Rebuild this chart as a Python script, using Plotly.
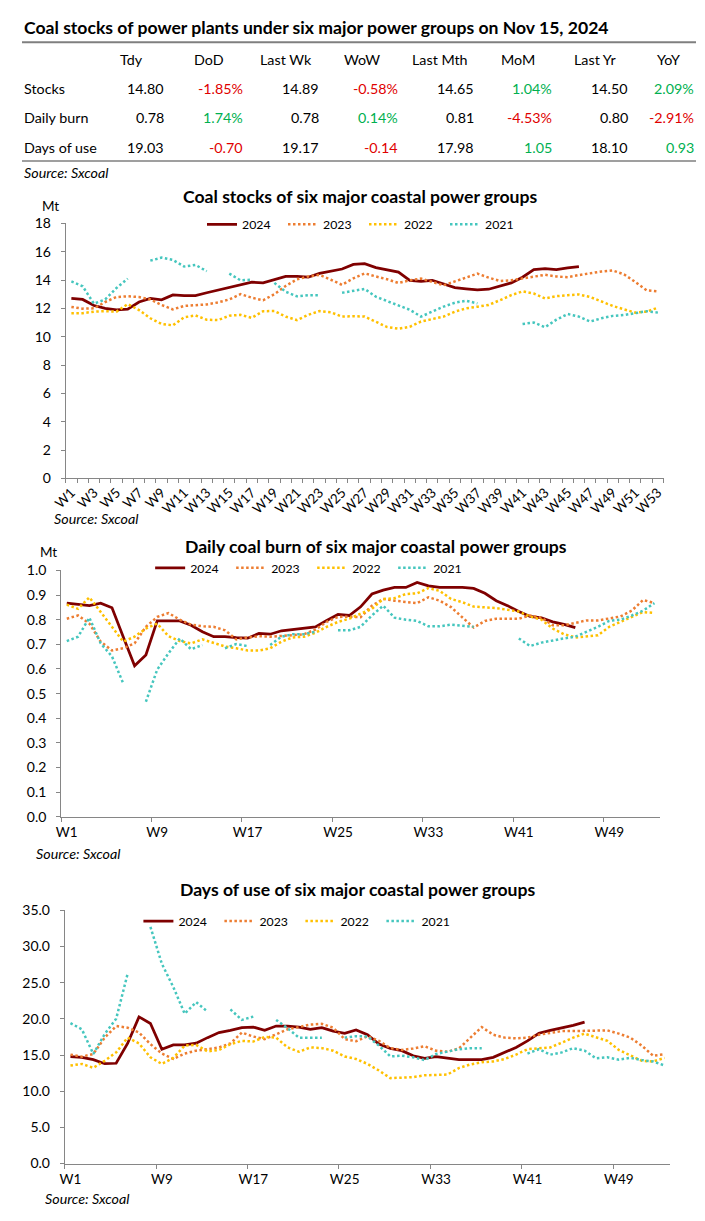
import plotly.graph_objects as go

# ---------------- data ----------------
weeks = list(range(1, 54))
week_labels = ["W%d" % w for w in weeks]
years = ["2024", "2023", "2022", "2021"]

stocks_2024 = [12.7, 12.63, 12.2, 12.0, 11.9, 11.95, 12.45, 12.7, 12.6, 12.95,
               12.9, 12.9, 13.1, 13.3, 13.5, 13.7, 13.85, 13.8, 14.03, 14.25,
               14.25, 14.2, 14.47, 14.62, 14.78, 15.1, 15.15, 14.88, 14.72, 14.56,
               13.98, 13.9, 13.98, 13.75, 13.47, 13.38, 13.3, 13.35, 13.55, 13.8,
               14.2, 14.74, 14.8, 14.74, 14.86, 14.95]
stocks_2023 = [12.1, 11.98, 12.0, 12.45, 12.8, 12.85, 12.8, 12.63, 12.24, 11.93,
               12.17, 12.2, 12.28, 12.42, 12.63, 13.0, 12.75, 12.57, 13.0, 13.58,
               14.05, 14.25, 14.36, 14.02, 13.66, 14.12, 14.47, 14.25, 14.05, 13.79,
               13.98, 14.1, 13.86, 13.63, 13.9, 14.2, 14.45, 14.17, 13.93, 13.98,
               14.1, 14.25, 14.37, 14.25, 14.2, 14.35, 14.5, 14.6, 14.67, 14.4,
               13.86, 13.28, 13.2]
stocks_2022 = [11.66, 11.66, 11.77, 11.8, 11.77, 12.3, 11.88, 11.3, 10.9, 10.8,
               11.37, 11.5, 11.2, 11.17, 11.48, 11.54, 11.33, 11.8, 11.81, 11.42,
               11.17, 11.54, 11.81, 11.72, 11.42, 11.45, 11.42, 11.05, 10.68, 10.56,
               10.7, 11.07, 11.23, 11.42, 11.77, 12.0, 12.12, 12.24, 12.58, 12.93,
               13.2, 13.05, 12.7, 12.86, 12.93, 12.98, 12.8, 12.5, 12.17, 11.93,
               11.7, 11.77, 12.05]
stocks_2021 = [13.9, 13.56, 12.33, 12.63, 13.44, 14.1, None, 15.37, 15.58, 15.42,
               14.95, 15.07, 14.62, None, 14.45, 13.98, 14.02, None, 13.8, 13.17,
               12.85, 12.93, 12.93, None, 13.1, 13.25, 13.37, 12.82, 12.5, 12.2,
               11.9, 11.42, 11.77, 12.12, 12.4, 12.54, 12.35, None, None, None,
               10.9, 11.0, 10.67, 11.2, 11.6, 11.42, 11.07, 11.3, 11.47, 11.53,
               11.66, 11.8, 11.7]

burn_2024 = [0.867, 0.861, 0.857, 0.867, 0.848, 0.73, 0.613, 0.657, 0.795, 0.795,
             0.795, 0.777, 0.751, 0.731, 0.731, 0.727, 0.725, 0.744, 0.741, 0.755,
             0.76, 0.768, 0.771, 0.797, 0.821, 0.817, 0.852, 0.904, 0.92, 0.931,
             0.931, 0.951, 0.937, 0.931, 0.931, 0.931, 0.927, 0.907, 0.877, 0.857,
             0.833, 0.813, 0.807, 0.791, 0.781, 0.768]
burn_2023 = [0.804, 0.817, 0.784, 0.711, 0.675, 0.684, 0.704, 0.771, 0.811, 0.827,
             0.8, 0.78, 0.773, 0.771, 0.757, 0.72, 0.728, 0.733, 0.731, 0.733,
             0.737, 0.741, 0.76, 0.791, 0.811, 0.812, 0.81, 0.857, 0.884, 0.877,
             0.873, 0.867, 0.891, 0.877, 0.851, 0.808, 0.768, 0.795, 0.804, 0.804,
             0.804, 0.817, 0.808, 0.777, 0.777, 0.787, 0.797, 0.797, 0.804, 0.813,
             0.837, 0.88, 0.867]
burn_2022 = [0.861, 0.844, 0.891, 0.831, 0.771, 0.711, 0.731, 0.764, 0.784, 0.733,
             0.713, 0.704, 0.72, 0.707, 0.691, 0.684, 0.675, 0.675, 0.684, 0.711,
             0.728, 0.731, 0.747, 0.771, 0.791, 0.804, 0.824, 0.844, 0.884, 0.887,
             0.904, 0.907, 0.928, 0.917, 0.884, 0.871, 0.853, 0.851, 0.847, 0.84,
             0.833, 0.813, 0.8, 0.764, 0.741, 0.728, 0.733, 0.737, 0.771, 0.791,
             0.811, 0.831, 0.827]
burn_2021 = [0.713, 0.731, 0.808, 0.704, 0.651, 0.541, None, 0.467, 0.597, 0.664,
             0.724, 0.68, 0.697, None, 0.684, 0.701, 0.693, None, 0.697, 0.731,
             0.741, 0.741, 0.751, None, 0.757, 0.757, 0.771, 0.817, 0.857, 0.808,
             0.8, 0.795, 0.773, 0.773, 0.78, 0.777, 0.771, None, None, None,
             0.724, 0.693, 0.707, 0.717, 0.724, 0.731, 0.751, 0.771, 0.795, 0.8,
             0.817, 0.837, 0.867]

days_2024 = [14.77, 14.68, 14.36, 13.8, 13.86, 16.6, 20.27, 19.36, 15.8, 16.4,
             16.4, 16.64, 17.4, 18.1, 18.4, 18.77, 18.86, 18.4, 19.0, 19.0,
             18.86, 18.55, 18.77, 18.3, 18.0, 18.45, 17.8, 16.5, 15.9, 15.6,
             14.9, 14.55, 14.77, 14.6, 14.36, 14.36, 14.36, 14.68, 15.36, 16.05,
             16.95, 18.0, 18.4, 18.7, 19.1, 19.55]
days_2023 = [15.05, 14.77, 15.14, 17.4, 19.0, 18.77, 18.1, 16.5, 15.2, 14.45,
             15.2, 15.6, 15.8, 16.05, 16.6, 18.1, 17.55, 17.2, 17.86, 18.55,
             18.86, 19.2, 19.3, 18.77, 17.2, 16.9, 17.6, 16.95, 15.95, 15.7,
             15.9, 16.2, 15.6, 15.45, 15.9, 17.4, 18.86, 17.8, 17.4, 17.3,
             17.4, 17.8, 18.1, 18.3, 18.3, 18.3, 18.3, 18.4, 17.95, 17.4,
             16.3, 14.9, 15.1]
days_2022 = [13.55, 13.77, 13.23, 14.2, 15.36, 17.4, 16.6, 14.68, 13.77, 14.6,
             16.3, 16.4, 15.5, 15.7, 16.5, 16.95, 16.86, 17.5, 17.4, 16.05,
             15.45, 16.05, 15.95, 15.6, 14.8, 14.45, 13.77, 12.86, 11.8, 11.86,
             11.95, 12.2, 12.2, 12.3, 13.2, 13.7, 14.0, 14.1, 14.45, 15.05,
             15.8, 15.95, 16.05, 16.7, 17.4, 17.95, 17.4, 16.95, 15.7, 14.9,
             14.2, 14.1, 14.6]
days_2021 = [19.4, 18.55, 15.14, 17.9, 20.0, 26.2, None, 32.7, 27.6, 24.4,
             20.7, 22.3, 21.0, None, 21.3, 19.85, 20.3, None, 19.85, 18.7,
             17.4, 17.4, 17.4, None, 17.4, 17.6, 17.55, 16.3, 14.8, 14.9,
             14.68, 14.3, 15.14, 15.45, 15.8, 15.95, 15.95, None, None, None,
             15.2, 15.8, 15.05, 15.36, 15.95, 15.6, 14.55, 14.68, 14.36, 14.6,
             14.3, 14.1, 13.55]

table_cols = ["Tdy", "DoD", "Last Wk", "WoW", "Last Mth", "MoM", "Last Yr", "YoY"]
table_rows = ["Stocks", "Daily burn", "Days of use"]
table_vals = [
    ["14.80", "-1.85%", "14.89", "-0.58%", "14.65", "1.04%", "14.50", "2.09%"],
    ["0.78", "1.74%", "0.78", "0.14%", "0.81", "-4.53%", "0.80", "-2.91%"],
    ["19.03", "-0.70", "19.17", "-0.14", "17.98", "1.05", "18.10", "0.93"],
]

main_title = "Coal stocks of power plants under six major power groups on Nov 15, 2024"
chart_titles = ["Coal stocks of six major coastal power groups",
                "Daily coal burn of six major coastal power groups",
                "Days of use of six major coastal power groups"]
source_text = "Source: Sxcoal"

# ---------------- geometry / styling ----------------
PAGE_W, PAGE_H = 705, 1221
OFF = 8                      # default body margin of the html page
W, H = PAGE_W - 2 * OFF, PAGE_H - 2 * OFF
FONT = "Lato"
AX = "#868686"
RED, GREEN = "#E00000", "#00B050"
LPAD = 2
styles = {
    "2024": dict(color="#7F0000", width=2.75, dash="solid"),
    "2023": dict(color="#ED7D31", width=2.5, dash="2.5px,2.5px"),
    "2022": dict(color="#FFC000", width=2.5, dash="2.5px,2.5px"),
    "2021": dict(color="#45C6BE", width=2.5, dash="2.5px,2.5px"),
}


def px(x):
    return (x - OFF) / W


def py(y):
    return 1 - (y - OFF) / H


fig = go.Figure()

series_sets = [
    [stocks_2024, stocks_2023, stocks_2022, stocks_2021],
    [burn_2024, burn_2023, burn_2022, burn_2021],
    [days_2024, days_2023, days_2022, days_2021],
]
legend_names = ["legend", "legend2", "legend3"]
for i, sset in enumerate(series_sets):
    ax = "" if i == 0 else str(i + 1)
    for yr, vals in zip(years, sset):
        fig.add_trace(go.Scatter(
            x=weeks[:len(vals)], y=vals, name=yr, mode="lines",
            line=styles[yr], connectgaps=False,
            xaxis="x" + ax, yaxis="y" + ax, legend=legend_names[i],
            hoverinfo="skip"))

domains = [
    dict(x=(52.7, 663.8), y=(217.3, 476.0)),
    dict(x=(48.0, 660.3), y=(569.3, 819.3)),
    dict(x=(51.7, 670.7), y=(914.0, 1171.0)),
]
yranges = [[0, 18], [0, 1.0], [0, 35]]
ydticks = [2, 0.1, 5]
yformats = ["d", ".1f", ".1f"]

layout = dict(
    width=W, height=H, autosize=False,
    margin=dict(l=0, r=0, t=0, b=0),
    paper_bgcolor="white", plot_bgcolor="white",
    font=dict(family=FONT, size=12, color="#000000"),
    showlegend=True,
)

for i, d in enumerate(domains):
    ax = "" if i == 0 else str(i + 1)
    if i == 0:
        tickvals, ticktext, angle, mdt, sto = weeks[::2], week_labels[::2], -45, 1, 0
    else:
        tickvals, ticktext, angle, mdt, sto = weeks[::8], week_labels[::8], 0, 8, 3
    layout["xaxis" + ax] = dict(
        domain=[px(d["x"][0]), px(d["x"][1])], anchor="y" + ax,
        range=[0.5, 53.5], tickmode="array", tickvals=tickvals, ticktext=ticktext,
        tickangle=angle, ticks="", showline=True, linecolor=AX, linewidth=1,
        showgrid=False, zeroline=False, tickfont=dict(size=13.5),
        ticklabelstandoff=sto,
        minor=dict(ticks="outside", tickmode="linear", tick0=0.5, dtick=mdt,
                   ticklen=4, tickcolor=AX, tickwidth=1, showgrid=False),
    )
    layout["yaxis" + ax] = dict(
        domain=[py(d["y"][1]), py(d["y"][0])], anchor="x" + ax,
        range=yranges[i], dtick=ydticks[i], tickformat=yformats[i],
        ticks="outside", ticklen=4, tickcolor=AX, showline=True, linecolor=AX,
        linewidth=1, showgrid=False, zeroline=False, tickfont=dict(size=14),
        ticklabelstandoff=7,
    )

legend_pos = [(192, 218.3), (139, 566.7), (127, 925)]
for name, (lx, ly) in zip(legend_names, legend_pos):
    layout[name] = dict(orientation="h", x=px(lx), y=py(ly), xanchor="left",
                        yanchor="middle", entrywidth=36, entrywidthmode="pixels",
                        font=dict(size=12.3, family=FONT), bgcolor="rgba(0,0,0,0)",
                        itemwidth=30, tracegroupgap=0)

fig.update_layout(**layout)

ann = []
shapes = []


def left_text(text, x, y, size, color="#000000"):
    ann.append(dict(text=text, x=max(px(x - LPAD), 0), y=py(y), xanchor="left",
                    yanchor="middle", font=dict(size=size, color=color)))


left_text("<b>%s</b>" % main_title, 3.6, 18.3, 17.6)
col_centers = [119.8, 199, 278, 356, 435.5, 515, 594, 669]
col_rights = [155.6, 235.6, 313.4, 394.3, 471.7, 552.2, 629.5, 701.4]
for c, name in enumerate(table_cols):
    ann.append(dict(text=name, x=px(col_centers[c]), y=py(50.7), xanchor="center",
                    yanchor="middle", font=dict(size=14.3)))
row_y = [80.7, 110.3, 140.0]
for r, rname in enumerate(table_rows):
    left_text(rname, 3.6, row_y[r], 14.3)
    for c, v in enumerate(table_vals[r]):
        color = "#000000"
        if c % 2 == 1:
            color = RED if v.startswith("-") else GREEN
        ann.append(dict(text=v, x=min(px(col_rights[c]), 1), y=py(row_y[r]),
                        xanchor="right", yanchor="middle",
                        font=dict(size=14.3, color=color)))
shapes.append(dict(type="line", xref="paper", yref="paper", x0=0, x1=1,
                   y0=py(33.5), y1=py(33.5), line=dict(color="#7F7F7F", width=2)))
shapes.append(dict(type="line", xref="paper", yref="paper", x0=0, x1=1,
                   y0=py(154), y1=py(154), line=dict(color="#7F7F7F", width=1.5)))
left_text("<i>%s</i>" % source_text, 3.6, 166, 14.3)

title_pos = [(354, 190), (370, 545), (351, 893)]
for t, (tx, ty) in zip(chart_titles, title_pos):
    ann.append(dict(text="<b>%s</b>" % t, x=px(tx), y=py(ty), xanchor="center",
                    yanchor="middle", font=dict(size=17.6)))
ann.append(dict(text="Mt", x=px(37), y=py(200), xanchor="center", yanchor="middle",
                font=dict(size=13.5)))
ann.append(dict(text="Mt", x=px(35), y=py(551), xanchor="center", yanchor="middle",
                font=dict(size=13.5)))
for sx, sy in [(41, 516.7), (22, 856), (31, 1206.7)]:
    left_text("<i>%s</i>" % source_text, sx, sy, 14.3)

for a in ann:
    a.update(xref="paper", yref="paper", showarrow=False)

fig.update_layout(annotations=ann, shapes=shapes)

fig.write_html("out.html", config={"displayModeBar": False})
